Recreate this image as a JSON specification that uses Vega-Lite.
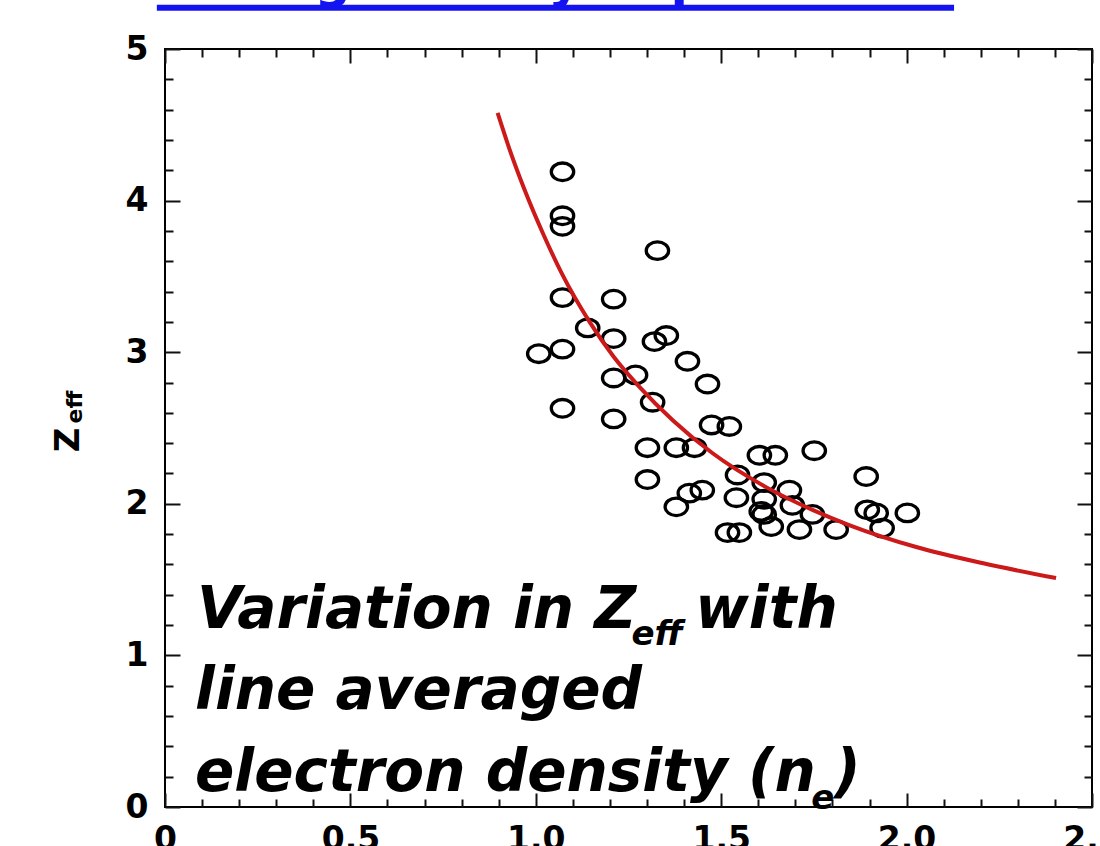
{
  "$schema": "https://vega.github.io/schema/vega-lite/v6.json",
  "width": 927,
  "height": 758,
  "autosize": "none",
  "padding": {"left": 165, "top": 49, "right": 8, "bottom": 39},
  "background": "white",
  "config": {
    "view": {"stroke": "black", "strokeWidth": 2},
    "axis": {
      "grid": false, "domain": false, "title": null,
      "tickColor": "#111111", "tickWidth": 2,
      "labelFont": "DejaVu Sans", "labelFontWeight": "bold", "labelFontSize": 33, "labelColor": "black",
      "labelFlush": false, "labelOverlap": false, "labelBound": false
    }
  },
  "datasets": {
    "pts": [
      {"ne": 1.072, "zeff": 4.19}, {"ne": 1.072, "zeff": 3.90}, {"ne": 1.072, "zeff": 3.83},
      {"ne": 1.328, "zeff": 3.67}, {"ne": 1.072, "zeff": 3.36}, {"ne": 1.210, "zeff": 3.35},
      {"ne": 1.140, "zeff": 3.16}, {"ne": 1.210, "zeff": 3.09}, {"ne": 1.320, "zeff": 3.07},
      {"ne": 1.352, "zeff": 3.11}, {"ne": 1.008, "zeff": 2.99}, {"ne": 1.072, "zeff": 3.02},
      {"ne": 1.409, "zeff": 2.94}, {"ne": 1.210, "zeff": 2.83}, {"ne": 1.269, "zeff": 2.85},
      {"ne": 1.463, "zeff": 2.79}, {"ne": 1.072, "zeff": 2.63}, {"ne": 1.315, "zeff": 2.67},
      {"ne": 1.210, "zeff": 2.56}, {"ne": 1.474, "zeff": 2.52}, {"ne": 1.522, "zeff": 2.51},
      {"ne": 1.301, "zeff": 2.37}, {"ne": 1.379, "zeff": 2.37}, {"ne": 1.428, "zeff": 2.37},
      {"ne": 1.603, "zeff": 2.32}, {"ne": 1.646, "zeff": 2.32}, {"ne": 1.751, "zeff": 2.35},
      {"ne": 1.301, "zeff": 2.16}, {"ne": 1.544, "zeff": 2.19}, {"ne": 1.616, "zeff": 2.14},
      {"ne": 1.684, "zeff": 2.09}, {"ne": 1.891, "zeff": 2.18}, {"ne": 1.379, "zeff": 1.98},
      {"ne": 1.414, "zeff": 2.07}, {"ne": 1.449, "zeff": 2.09}, {"ne": 1.541, "zeff": 2.04},
      {"ne": 1.616, "zeff": 2.03}, {"ne": 1.608, "zeff": 1.95}, {"ne": 1.616, "zeff": 1.93},
      {"ne": 1.692, "zeff": 1.99}, {"ne": 1.746, "zeff": 1.93}, {"ne": 1.894, "zeff": 1.96},
      {"ne": 1.918, "zeff": 1.94}, {"ne": 2.002, "zeff": 1.94}, {"ne": 1.517, "zeff": 1.81},
      {"ne": 1.549, "zeff": 1.81}, {"ne": 1.635, "zeff": 1.85}, {"ne": 1.711, "zeff": 1.83},
      {"ne": 1.810, "zeff": 1.83}, {"ne": 1.934, "zeff": 1.84}
    ],
    "fit": [
      {"ne": 0.897, "zeff": 4.578}, {"ne": 0.929, "zeff": 4.34}, {"ne": 0.97, "zeff": 4.07},
      {"ne": 1.02, "zeff": 3.78}, {"ne": 1.070, "zeff": 3.52}, {"ne": 1.145, "zeff": 3.20},
      {"ne": 1.210, "zeff": 2.97}, {"ne": 1.280, "zeff": 2.77}, {"ne": 1.370, "zeff": 2.55},
      {"ne": 1.476, "zeff": 2.335}, {"ne": 1.621, "zeff": 2.11}, {"ne": 1.746, "zeff": 1.96},
      {"ne": 1.845, "zeff": 1.86}, {"ne": 2.026, "zeff": 1.715}, {"ne": 2.204, "zeff": 1.609},
      {"ne": 2.403, "zeff": 1.510}
    ]
  },
  "resolve": {"axis": {"x": "independent", "y": "independent"}},
  "layer": [
    {
      "data": {"name": "pts"},
      "mark": {"type": "point", "shape": "M-1.15,0A1.15,0.9,0,1,1,1.15,0A1.15,0.9,0,1,1,-1.15,0Z", "size": 380, "filled": false, "stroke": "black", "strokeWidth": 3.3, "opacity": 1, "clip": false},
      "encoding": {
        "x": {"field": "ne", "type": "quantitative", "scale": {"domain": [0, 2.5], "nice": false, "zero": false},
          "axis": {"orient": "bottom", "values": [0, 0.5, 1, 1.5, 2, 2.5], "tickSize": -14, "labelPadding": 30,
            "labelExpr": "datum.value == 0 ? '0' : format(datum.value, '.1f')"}},
        "y": {"field": "zeff", "type": "quantitative", "scale": {"domain": [0, 5], "nice": false, "zero": false},
          "axis": {"orient": "left", "values": [0, 1, 2, 3, 4, 5], "tickSize": -15, "labelPadding": 32, "format": "d"}}
      }
    },
    {
      "data": {"name": "fit"},
      "mark": {"type": "line", "color": "#cc1a1a", "strokeWidth": 4, "interpolate": "monotone", "clip": false},
      "encoding": {
        "x": {"field": "ne", "type": "quantitative",
          "axis": {"orient": "bottom", "values": [0.1,0.2,0.3,0.4,0.6,0.7,0.8,0.9,1.1,1.2,1.3,1.4,1.6,1.7,1.8,1.9,2.1,2.2,2.3,2.4], "tickSize": -8, "labels": false}},
        "y": {"field": "zeff", "type": "quantitative",
          "axis": {"orient": "left", "values": [0.2,0.4,0.6,0.8,1.2,1.4,1.6,1.8,2.2,2.4,2.6,2.8,3.2,3.4,3.6,3.8,4.2,4.4,4.6,4.8], "tickSize": -8, "labels": false}}
      }
    },
    {
      "data": {"values": [{}]},
      "mark": {"type": "text", "text": "Variation in Z", "font": "DejaVu Sans", "fontWeight": "bold", "fontStyle": "italic", "fontSize": 58, "align": "left", "baseline": "alphabetic", "color": "black", "clip": false},
      "encoding": {
        "x": {"datum": 0.086, "type": "quantitative",
          "axis": {"orient": "top", "values": [0, 0.5, 1, 1.5, 2, 2.5], "tickSize": -14, "labels": false}},
        "y": {"datum": 1.18, "type": "quantitative",
          "axis": {"orient": "right", "values": [0, 1, 2, 3, 4, 5], "tickSize": -15, "labels": false}}
      }
    },
    {
      "data": {"values": [{}]},
      "mark": {"type": "text", "text": "line averaged", "font": "DejaVu Sans", "fontWeight": "bold", "fontStyle": "italic", "fontSize": 58, "align": "left", "baseline": "alphabetic", "color": "black", "clip": false},
      "encoding": {
        "x": {"datum": 0.081, "type": "quantitative",
          "axis": {"orient": "top", "values": [0.1,0.2,0.3,0.4,0.6,0.7,0.8,0.9,1.1,1.2,1.3,1.4,1.6,1.7,1.8,1.9,2.1,2.2,2.3,2.4], "tickSize": -8, "labels": false}},
        "y": {"datum": 0.646, "type": "quantitative",
          "axis": {"orient": "right", "values": [0.2,0.4,0.6,0.8,1.2,1.4,1.6,1.8,2.2,2.4,2.6,2.8,3.2,3.4,3.6,3.8,4.2,4.4,4.6,4.8], "tickSize": -8, "labels": false}}
      }
    },
    {
      "data": {"values": [{}]},
      "mark": {"type": "text", "text": "eff", "font": "DejaVu Sans", "fontWeight": "bold", "fontStyle": "italic", "fontSize": 34, "align": "left", "baseline": "alphabetic", "color": "black", "clip": false},
      "encoding": {"x": {"datum": 1.258, "type": "quantitative", "axis": null}, "y": {"datum": 1.07, "type": "quantitative", "axis": null}}
    },
    {
      "data": {"values": [{}]},
      "mark": {"type": "text", "text": " with", "font": "DejaVu Sans", "fontWeight": "bold", "fontStyle": "italic", "fontSize": 58, "align": "left", "baseline": "alphabetic", "color": "black", "clip": false},
      "encoding": {"x": {"datum": 1.43, "type": "quantitative", "axis": null}, "y": {"datum": 1.18, "type": "quantitative", "axis": null}}
    },
    {
      "data": {"values": [{}]},
      "mark": {"type": "text", "text": "electron density (n", "font": "DejaVu Sans", "fontWeight": "bold", "fontStyle": "italic", "fontSize": 58, "align": "left", "baseline": "alphabetic", "color": "black", "clip": false},
      "encoding": {"x": {"datum": 0.081, "type": "quantitative", "axis": null}, "y": {"datum": 0.106, "type": "quantitative", "axis": null}}
    },
    {
      "data": {"values": [{}]},
      "mark": {"type": "text", "text": "e", "font": "DejaVu Sans", "fontWeight": "bold", "fontStyle": "italic", "fontSize": 34, "align": "left", "baseline": "alphabetic", "color": "black", "clip": false},
      "encoding": {"x": {"datum": 1.743, "type": "quantitative", "axis": null}, "y": {"datum": -0.013, "type": "quantitative", "axis": null}}
    },
    {
      "data": {"values": [{}]},
      "mark": {"type": "text", "text": ")", "font": "DejaVu Sans", "fontWeight": "bold", "fontStyle": "italic", "fontSize": 58, "align": "left", "baseline": "alphabetic", "color": "black", "clip": false},
      "encoding": {"x": {"datum": 1.805, "type": "quantitative", "axis": null}, "y": {"datum": 0.106, "type": "quantitative", "axis": null}}
    },
    {
      "data": {"values": [{}]},
      "mark": {"type": "text", "text": "Z", "font": "DejaVu Sans", "fontWeight": "bold", "fontSize": 34, "angle": 270, "align": "left", "baseline": "alphabetic", "color": "black", "clip": false},
      "encoding": {"x": {"datum": -0.232, "type": "quantitative", "axis": null}, "y": {"datum": 2.34, "type": "quantitative", "axis": null}}
    },
    {
      "data": {"values": [{}]},
      "mark": {"type": "text", "text": "eff", "font": "DejaVu Sans", "fontWeight": "bold", "fontSize": 22, "angle": 270, "align": "left", "baseline": "alphabetic", "color": "black", "clip": false},
      "encoding": {"x": {"datum": -0.223, "type": "quantitative", "axis": null}, "y": {"datum": 2.53, "type": "quantitative", "axis": null}}
    },
    {
      "data": {"values": [{}]},
      "mark": {"type": "text", "text": "Strong density dependence", "font": "DejaVu Sans", "fontWeight": "bold", "fontSize": 51, "align": "left", "baseline": "alphabetic", "color": "#1414f0", "clip": false},
      "encoding": {"x": {"datum": -0.022, "type": "quantitative", "axis": null}, "y": {"datum": 5.345, "type": "quantitative", "axis": null}}
    },
    {
      "data": {"values": [{}]},
      "mark": {"type": "rule", "color": "#1414f0", "strokeWidth": 6, "clip": false},
      "encoding": {
        "x": {"datum": -0.022, "type": "quantitative", "axis": null},
        "x2": {"datum": 2.128},
        "y": {"datum": 5.272, "type": "quantitative", "axis": null}
      }
    }
  ]
}
